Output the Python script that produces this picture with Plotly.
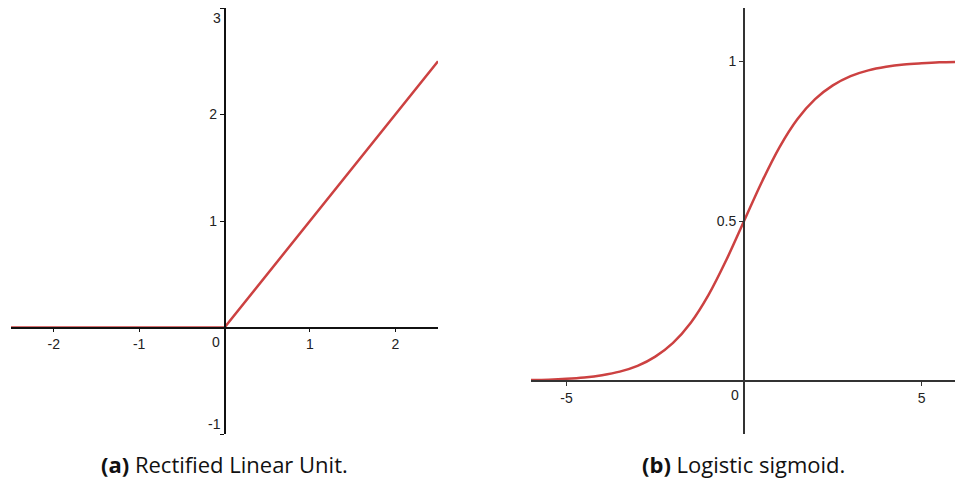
import plotly.graph_objects as go

# ---- data ----
relu_x = [-2.5, 0.0, 2.5]
relu_y = [0.0, 0.0, 2.5]

sig_x = [-6.0, -5.5, -5.0, -4.5, -4.0, -3.5, -3.0, -2.5, -2.0, -1.5, -1.0, -0.5,
         0.0, 0.5, 1.0, 1.5, 2.0, 2.5, 3.0, 3.5, 4.0, 4.5, 5.0, 5.5, 6.0]
sig_y = [0.0025, 0.004, 0.0067, 0.011, 0.018, 0.029, 0.047, 0.076, 0.119, 0.182, 0.269, 0.378,
         0.5, 0.622, 0.731, 0.818, 0.881, 0.924, 0.953, 0.971, 0.982, 0.989, 0.993, 0.996, 0.9975]

relu_xticks = [-2, -1, 1, 2]
relu_yticks = [-1, 1, 2, 3]
relu_edge_yticks = [-1, 3]      # labels nudged inside the plot, as in the picture
sig_xticks = [-5, 5]
sig_yticks = [0.5, 1]

captions = ["<b>(a)</b> Rectified Linear Unit.", "<b>(b)</b> Logistic sigmoid."]

# ---- layout geometry ----
W, H = 955, 482
RED = "#cc4141"
TICKFONT = dict(family="Liberation Sans, Arial, sans-serif", size=14, color="#222222")

L_xdom = [11 / W, 438 / W]
L_xr = [-2.5, 2.5]
L_ydom = [(H - 434) / H, (H - 8) / H]
L_yr = [-1.0, 3.0]

R_xdom = [531 / W, 1.0]
R_xr = [-6.0, 5.94]
R_ydom = L_ydom
R_yr = [-0.166, 1.166]


def zero_pos(dom, rng):
    return dom[0] + (0 - rng[0]) / (rng[1] - rng[0]) * (dom[1] - dom[0])


def lab(v, skip=()):
    return [("" if t in skip else "%g" % t) for t in v]


fig = go.Figure()
fig.add_trace(go.Scatter(x=relu_x, y=relu_y, mode="lines",
                         line=dict(color=RED, width=2.5), xaxis="x", yaxis="y",
                         showlegend=False, hoverinfo="skip"))
fig.add_trace(go.Scatter(x=sig_x, y=sig_y, mode="lines",
                         line=dict(color=RED, width=2.5, shape="spline", smoothing=1.0),
                         xaxis="x2", yaxis="y2", showlegend=False, hoverinfo="skip"))


def axis_common(color, width):
    return dict(showgrid=False, zeroline=False, showline=True, linecolor=color,
                linewidth=width, ticks="outside", ticklen=4, tickwidth=1.2,
                tickcolor=color, tickfont=TICKFONT, fixedrange=True, automargin=False)


fig.update_layout(
    width=W, height=H, margin=dict(l=0, r=0, t=0, b=0, pad=0, autoexpand=False),
    paper_bgcolor="white", plot_bgcolor="white",
    xaxis=dict(domain=L_xdom, range=L_xr, anchor="free",
               position=zero_pos(L_ydom, L_yr), tickvals=relu_xticks,
               ticktext=lab(relu_xticks), **axis_common("#111111", 1.5)),
    yaxis=dict(domain=L_ydom, range=L_yr, anchor="free",
               position=zero_pos(L_xdom, L_xr), tickvals=relu_yticks,
               ticktext=lab(relu_yticks, relu_edge_yticks), **axis_common("#111111", 1.5)),
    xaxis2=dict(domain=R_xdom, range=R_xr, anchor="free",
                position=zero_pos(R_ydom, R_yr), tickvals=sig_xticks,
                ticktext=lab(sig_xticks), **axis_common("#333333", 2)),
    yaxis2=dict(domain=R_ydom, range=R_yr, anchor="free",
                position=zero_pos(R_xdom, R_xr), tickvals=sig_yticks,
                ticktext=lab(sig_yticks), **axis_common("#333333", 2)),
)

# edge labels of the ReLU y axis (shifted inward like the original)
for v in relu_edge_yticks:
    fig.add_annotation(x=0, y=v, xref="x", yref="y", text="%g" % v, showarrow=False,
                       xanchor="right", yanchor="top" if v > 0 else "bottom",
                       xshift=-2, yshift=0, font=TICKFONT)

# origin "0" labels
fig.add_annotation(x=0, y=0, xref="x", yref="y", text="0", showarrow=False,
                   xanchor="right", yanchor="top", xshift=-3, yshift=-4, font=TICKFONT)
fig.add_annotation(x=0, y=0, xref="x2", yref="y2", text="0", showarrow=False,
                   xanchor="right", yanchor="top", xshift=-3, yshift=-4, font=TICKFONT)

# captions
cap_font = dict(family="Open Sans, sans-serif", size=22, color="#111111")
fig.add_annotation(x=224 / W, y=(H - 464) / H, xref="paper", yref="paper",
                   text=captions[0], showarrow=False, xanchor="center", yanchor="middle",
                   font=cap_font)
fig.add_annotation(x=743 / W, y=(H - 464) / H, xref="paper", yref="paper",
                   text=captions[1], showarrow=False, xanchor="center", yanchor="middle",
                   font=cap_font)

fig.write_html("out.html")
